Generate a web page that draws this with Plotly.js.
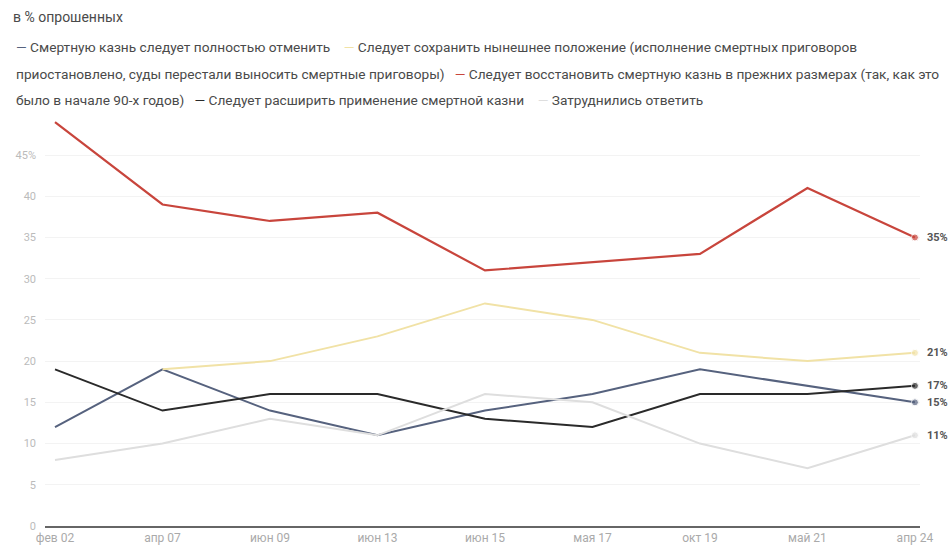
<!DOCTYPE html>
<html><head><meta charset="utf-8">
<script src="https://cdn.plot.ly/plotly-3.0.1.min.js"></script>
<style>html,body{margin:0;padding:0;background:#fff}#chart{width:951px;height:549px}</style>
</head><body><div id="chart"></div>
<script>
const periods = ["фев 02","апр 07","июн 09","июн 13","июн 15","мая 17","окт 19","май 21","апр 24"];
const abolish = [12,19,14,11,14,16,19,17,15];
const keepMoratorium = [null,19,20,23,27,25,21,20,21];
const restore = [49,39,37,38,31,32,33,41,35];
const expand = [19,14,16,16,13,12,16,16,17];
const hardToSay = [8,10,13,11,16,15,10,7,11];
const yTicks = [0,5,10,15,20,25,30,35,40,45];
const yTickText = ["0","5","10","15","20","25","30","35","40","45%"];

const seriesNames = [
  "Смертную казнь следует полностью отменить",
  "Следует сохранить нынешнее положение (исполнение смертных приговоров приостановлено, суды перестали выносить смертные приговоры)",
  "Следует восстановить смертную казнь в прежних размерах (так, как это было в начале 90-х годов)",
  "Следует расширить применение смертной казни",
  "Затруднились ответить"
];
const seriesData = [abolish, keepMoratorium, restore, expand, hardToSay];
const colors = ["#56627e","#f1e2a6","#c8453c","#2a2a2a","#dedede"];
const widths = [2,2,2.2,2,2];

const xs = periods.map((p,i)=>i);
const last = periods.length-1;
const traces = seriesData.map((vals,k)=>({
  type:"scatter", mode:"lines+markers", name:seriesNames[k],
  x: xs, y: vals,
  line:{color:colors[k], width:widths[k]},
  marker:{color:colors[k], size: vals.map((v,i)=> i===last?7:0)},
  hoverinfo:"skip", showlegend:false, connectgaps:false
}));

const annotations = seriesData.map((vals,k)=>({
  xref:"x", yref:"y", x:last, y:vals[last], text:"<b>"+vals[last]+"%</b>",
  xanchor:"left", yanchor:"middle", xshift:10, showarrow:false,
  font:{family:"Roboto, sans-serif", size:11, color:"#555"}
}));

function sw(k){return '<span style="color:'+colors[k]+'">—</span> ';}
const legendLines = [
  sw(0)+"Смертную казнь следует полностью отменить    "+sw(1)+"Следует сохранить нынешнее положение (исполнение смертных приговоров",
  "приостановлено, суды перестали выносить смертные приговоры)   "+sw(2)+"Следует восстановить смертную казнь в прежних размерах (так, как это",
  "было в начале 90-х годов)   "+sw(3)+"Следует расширить применение смертной казни    "+sw(4)+"Затруднились ответить"
];
const legendY = [47,74,100];
const plotTop = 110, plotBottom = 526;
const toPaper = py => (plotBottom-py)/(plotBottom-plotTop);
legendLines.forEach((t,i)=>annotations.push({
  xref:"paper", yref:"paper", x:-0.036, y:toPaper(legendY[i]), xanchor:"left", yanchor:"middle",
  text:t, showarrow:false, align:"left",
  font:{family:"Roboto, sans-serif", size:13.7, color:"#4a4a4a"}
}));
annotations.push({
  xref:"paper", yref:"paper", x:-0.039, y:toPaper(17), xanchor:"left", yanchor:"middle",
  text:"в % опрошенных", showarrow:false,
  font:{family:"Roboto, sans-serif", size:14, color:"#4a4a4a"}
});

const layout = {
  width:951, height:549,
  margin:{l:45, r:31, t:plotTop, b:549-plotBottom},
  paper_bgcolor:"#fff", plot_bgcolor:"#fff",
  xaxis:{range:[-0.093,8.047], tickvals:xs, ticktext:periods, showgrid:false, zeroline:false,
    showline:true, linecolor:"#666", linewidth:2, ticks:"",
    tickfont:{family:"Roboto, sans-serif", size:12, color:"#aaa"}, fixedrange:true},
  yaxis:{range:[0,50.46], tickvals:yTicks, ticktext:yTickText, showgrid:true, gridcolor:"#f3f3f3",
    zeroline:false, showline:false, ticks:"", ticklabelstandoff:8,
    tickfont:{family:"Roboto, sans-serif", size:11, color:"#bbb"}, fixedrange:true},
  annotations: annotations,
  showlegend:false
};
Plotly.newPlot("chart", traces, layout, {displayModeBar:false, staticPlot:true});
</script></body></html>
